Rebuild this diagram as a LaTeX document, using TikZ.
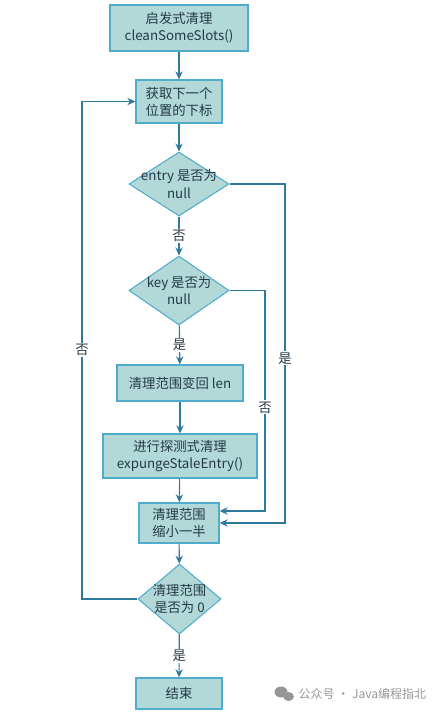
\documentclass[tikz,border=0pt]{standalone}
\usepackage{fontspec}
\setmainfont{Noto Sans CJK SC}
\usepackage{tikz}
\usetikzlibrary{arrows.meta,positioning,shapes.geometric}
\definecolor{boxfill}{RGB}{178,216,216}
\definecolor{boxline}{RGB}{80,172,204}
\definecolor{flow}{RGB}{46,122,158}
\definecolor{ink}{RGB}{36,58,70}
\definecolor{wmgray}{RGB}{150,150,150}
\tikzset{
  every picture/.style={font=\fontsize{10}{12.8}\selectfont},
  sz/.style 2 args={minimum width=#1*0.75pt,minimum height=#2*0.75pt},
  box/.style={draw=boxline,fill=boxfill,line width=1pt,text=ink,align=center,inner sep=0pt},
  dia/.style={diamond,draw=boxline,fill=boxfill,line width=0.8pt,inner sep=0pt},
  flowline/.style={draw=flow,line width=0.85pt},
  arr/.style={flowline,-{Stealth[length=6pt,width=5.5pt]}},
  lab/.style={fill=white,text=ink,inner sep=1pt},
}

\begin{document}
\begin{tikzpicture}[x=0.75pt,y=-0.75pt]
  \useasboundingbox (0,0) rectangle (432,712);
  \node[box,sz={138}{46}] (start) at (179,28) {启发式清理\\cleanSomeSlots()};
  \node[box,sz={86}{43}] (next) at (179,101.5) {获取下一个\\位置的下标};
  \node[dia,sz={100}{64},label={[align=center,text=ink]center:entry 是否为\\null}] (entry) at (179,184) {};
  \node[dia,sz={100}{69},label={[align=center,text=ink]center:key 是否为\\null}] (key) at (179,290.5) {};
  \node[box,sz={126}{36}] (reset) at (180,383) {清理范围变回 len};
  \node[box,sz={154}{44}] (expunge) at (180,456) {进行探测式清理\\expungeStaleEntry()};
  \node[box,sz={80}{40}] (half) at (179,523) {清理范围\\缩小一半};
  \node[dia,sz={83}{70},label={[align=center,text=ink]center:清理范围\\是否为 0}] (zero) at (179.5,599) {};
  \node[box,sz={86}{31}] (done) at (179,693.5) {结束};
  \coordinate (rEntry) at (285,523);
  \coordinate (rKey) at (265,511);
  \coordinate (back) at (82,101.5);
  \draw[arr] (start) -- (next);
  \draw[arr] (next) -- (entry);
  \draw[arr] (entry) -- node[lab]{否} (key);
  \draw[arr] (key) -- node[lab]{是} (reset);
  \draw[arr] (reset) -- (expunge);
  \draw[arr] (expunge) -- (half);
  \draw[arr] (half) -- (zero);
  \draw[arr] (zero) -- node[lab]{是} (done);
  \draw[arr] (entry.east) -| (rEntry) node[lab,pos=0.757]{是} -- (rEntry -| half.east);
  \draw[arr] (key.east) -| (rKey) node[lab,pos=0.765]{否} -- (rKey -| half.east);
  \draw[arr] (zero.west) -| (back) node[lab,pos=0.75]{否} -- (next.west);
  \fill[wmgray] (281,692) ellipse (6.5 and 5.5);
  \fill[wmgray] (288.5,696.5) ellipse (5.5 and 4.5);
  \node[text=wmgray,anchor=west,font=\fontsize{9}{11}\selectfont] (wm) at (294,694) {公众号 · Java编程指北};
\end{tikzpicture}
\end{document}
